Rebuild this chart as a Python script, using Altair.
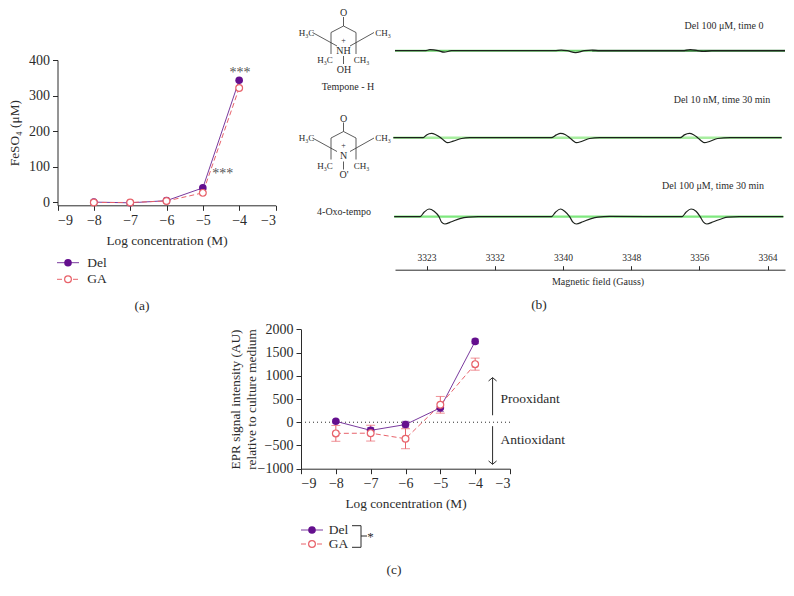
import altair as alt
import pandas as pd

conc = [-8, -7, -6, -5, -4]
a_del = [0, -2, 4, 40, 343]
a_ga = [-1, -1, 3, 26, 321]
c_del = [20, -175, -50, 310, 1740]
c_del_err = [30, 60, 70, 80, 50]
c_ga = [-240, -235, -355, 375, 1250]
c_ga_err = [170, 170, 215, 180, 130]

# spectra: magnetic field (Gauss) and signal
top_x = [3319.2,3322.8,3323.4,3324.4,3325.1,3326.0,3338.4,3339.2,3339.9,3340.9,3342.0,3342.9,3343.8,3353.8,3354.7,3355.6,3356.3,3357.3,3366.1]
top_y = [0,0,1.0,0,-1.5,0,0,0.6,0,-2,0,0.6,0,0,1.2,0,-0.8,0,0]
mid_x = [3319.0,3322.6,3323.0,3323.6,3324.1,3324.7,3325.2,3325.5,3326.2,3327.2,3328.2,3338.0,3338.6,3339.1,3339.7,3340.2,3340.7,3341.0,3341.7,3342.6,3343.8,3353.5,3354.0,3354.6,3355.1,3355.6,3356.1,3356.4,3357.1,3358.0,3359.5,3365.7]
mid_y = [0,0,2.8,4.3,3,0,-3.5,-5,-3.5,-0.8,0,0,2.8,4.3,3,0,-3.5,-5,-3.5,-0.8,0,0,2.8,4.3,3,0,-3.5,-5,-3.5,-0.8,0,0]
bot_x = [3319.1,3322.2,3322.7,3323.3,3323.9,3324.5,3324.8,3325.2,3326.0,3327.0,3328.0,3329.2,3338.0,3338.5,3339.1,3339.6,3340.2,3340.6,3341.0,3341.8,3342.8,3343.6,3345.0,3353.7,3354.2,3354.8,3355.4,3355.9,3356.3,3356.7,3357.5,3358.5,3359.2,3360.6,3365.9]
bot_y = [0,0,4.5,7.7,5.5,0,-5.5,-7.3,-5,-2,-0.5,0,0,4.5,7.7,5.5,0,-5.5,-7.3,-5,-2,-0.5,0.3,0,4.5,7.7,5.5,0,-5.5,-7.3,-5,-2,-0.5,0,0]
base = [0, -87, -166]
field_ticks = [3323, 3331.2, 3339.4, 3347.6, 3355.8, 3364]

PURPLE = "#640f8e"
PLINE = "#7a3a9e"
RED = "#e8636b"
INK = "#2b2b2b"
FONT = "Liberation Serif"

def cx(v):
    return v - 8

def line_layers(x, y, xs, ys, err=None):
    d = pd.DataFrame({"x": conc, "del": a_del if err is None else c_del, "ga": a_ga if err is None else c_ga})
    if err is not None:
        d["del0"] = [v - e for v, e in zip(c_del, c_del_err)]
        d["del1"] = [v + e for v, e in zip(c_del, c_del_err)]
        d["ga0"] = [v - e for v, e in zip(c_ga, c_ga_err)]
        d["ga1"] = [v + e for v, e in zip(c_ga, c_ga_err)]
    base_c = alt.Chart(d)
    X = alt.X("x:Q", scale=xs, axis=x)
    Y = alt.Y("del:Q", scale=ys, axis=y)
    Yg = alt.Y("ga:Q", scale=ys, axis=None)
    XN = alt.X("x:Q", scale=xs, axis=None)
    ls = [base_c.mark_line(color=PLINE, strokeWidth=1).encode(x=X, y=Y)]
    if err is not None:
        ls.append(base_c.mark_errorbar(color=PLINE, ticks=alt.TickConfig(size=7)).encode(x=XN, y=alt.Y("del0:Q", scale=ys, axis=None, title=None), y2="del1:Q"))
        ls.append(base_c.mark_errorbar(color=RED, ticks=alt.TickConfig(size=9)).encode(x=XN, y=alt.Y("ga0:Q", scale=ys, axis=None, title=None), y2="ga1:Q"))
    ls.append(base_c.mark_line(color=RED, strokeWidth=1, strokeDash=[5, 3]).encode(x=XN, y=Yg))
    ls.append(base_c.mark_point(filled=True, color=PURPLE, size=58, opacity=1).encode(x=XN, y=alt.Y("del:Q", scale=ys, axis=None)))
    ls.append(base_c.mark_point(fill="white", color=RED, stroke=RED, strokeWidth=1.2, size=46, opacity=1, filled=False).encode(x=XN, y=Yg))
    return ls

CANVAS_H = 580
common_axis = dict(labelFont=FONT, titleFont=FONT, labelFontSize=14, titleFontSize=13.3, labelColor=INK, titleColor=INK,
                   domainColor=INK, tickColor=INK, grid=False, tickSize=5, labelPadding=3, titleFontWeight="normal")

# panel (a)
ay_px = 205.3
ax_a = alt.Axis(orient="bottom", values=[-9,-8,-7,-6,-5,-4,-3], offset=-(CANVAS_H - cx(ay_px)), title="Log concentration (M)", format="d", titlePadding=6, **common_axis)
ay_a = alt.Axis(orient="left", values=[0,100,200,300,400], offset=-cx(57.5), title="FeSO₄ (μM)", format="d", titlePadding=7, **common_axis)
xs_a = alt.Scale(domain=[-9, -3], range=[cx(57.5), cx(275.5)], nice=False, zero=False)
ys_a = alt.Scale(domain=[-9, 400], range=[cx(ay_px), cx(60)], nice=False, zero=False)
stars_a = pd.DataFrame({"x": [-3.98, -4.45], "y": [362, 78], "t": ["***", "***"]})
panel_a = line_layers(ax_a, ay_a, xs_a, ys_a) + [
    alt.Chart(stars_a).mark_text(font=FONT, fontSize=14, color="#555").encode(
        x=alt.X("x:Q", scale=xs_a, axis=None), y=alt.Y("y:Q", scale=ys_a, axis=None), text="t:N")]

# panel (c)
cy_px = 468.7
ax_c = alt.Axis(orient="bottom", values=[-9,-8,-7,-6,-5,-4,-3], offset=-(CANVAS_H - cx(cy_px)), title="Log concentration (M)", format="d", titlePadding=6, **common_axis)
ay_c = alt.Axis(orient="left", values=[-1000,-500,0,500,1000,1500,2000], offset=-cx(301), title=["EPR signal intensity (AU)", "relative to culture medium"], format="d", titlePadding=-1, **common_axis)
xs_c = alt.Scale(domain=[-9, -3], range=[cx(301), cx(510)], nice=False, zero=False)
ys_c = alt.Scale(domain=[-1000, 2000], range=[cx(cy_px), cx(329.3)], nice=False, zero=False)
zero = pd.DataFrame({"x": [-9, -3], "y": [0, 0]})
arrows = pd.DataFrame({
    "g": [0,0, 1,1,1, 2,2, 3,3,3],
    "x": [-3.5,-3.5, -3.615,-3.5,-3.385, -3.5,-3.5, -3.615,-3.5,-3.385],
    "y": [150,960, 888,960,888, -85,-905, -833,-905,-833]})
labels_c = pd.DataFrame({"x": [-3.27, -3.27], "y": [490, -390], "t": ["Prooxidant", "Antioxidant"]})
XC = alt.X("x:Q", scale=xs_c, axis=None)
YC = alt.Y("y:Q", scale=ys_c, axis=None)
panel_c = [alt.Chart(zero).mark_line(color=INK, strokeDash=[1, 3], strokeWidth=1).encode(x=XC, y=YC)] + \
    line_layers(ax_c, ay_c, xs_c, ys_c, err=True) + [
    alt.Chart(arrows).mark_line(color=INK, strokeWidth=1).encode(x=XC, y=YC, detail="g:N", order=alt.Order("g:N")),
    alt.Chart(labels_c).mark_text(font=FONT, fontSize=13.5, color=INK, align="left").encode(x=XC, y=YC, text="t:N")]

# panel (b)
xs_b = alt.Scale(domain=[3319.2, 3366.1], range=[cx(395), cx(785)], nice=False, zero=False)
ys_b = alt.Scale(domain=[-220, 50], range=[cx(50.7 + 220), cx(0.7)], nice=False, zero=False)
ax_b = alt.Axis(orient="top", values=field_ticks, offset=-cx(269.7), title=None, labelExpr="format(ceil(datum.value),'d')",
                labelFont=FONT, labelFontSize=9.5, labelColor=INK, domainColor=INK, tickColor=INK, grid=False, tickSize=4, labelPadding=3)
XB = alt.X("x:Q", scale=xs_b, axis=None)
YB = alt.Y("y:Q", scale=ys_b, axis=None)
def flat(x0, x1, b, color, w):
    return alt.Chart(pd.DataFrame({"x": [x0, x1], "y": [b, b]})).mark_line(color=color, strokeWidth=w).encode(x=XB, y=YB)
def trace(xv, yv, b, color="#1c221c"):
    d = pd.DataFrame({"x": xv, "y": [v + b for v in yv]})
    return alt.Chart(d).mark_line(color=color, strokeWidth=1.2, interpolate="monotone").encode(x=XB, y=YB)
panel_b = [
    alt.Chart(pd.DataFrame({"x": field_ticks})).mark_tick(opacity=0).encode(x=alt.X("x:Q", scale=xs_b, axis=ax_b)),
    flat(3319.2, 3342.9, base[0], "#6fd46f", 2),
    flat(3342.9, 3366.1, base[0], "#2f7d34", 2),
    flat(3319.0, 3365.7, base[1], "#a8eea0", 2.5),
    flat(3319.1, 3365.9, base[2], "#7fe87f", 2.2),
    trace(top_x, top_y, base[0]),
    trace(mid_x, mid_y, base[1]),
    trace(bot_x, bot_y, base[2]),
]

# canvas annotations: captions, legends, structures (page pixel space)
xs_p = alt.Scale(domain=[0, 794], range=[-8, 786], nice=False, zero=False)
ys_p = alt.Scale(domain=[0, 596], range=[-8, 588], nice=False, zero=False)
XP = alt.X("x:Q", scale=xs_p, axis=None)
YP = alt.Y("y:Q", scale=ys_p, axis=None)

texts = [
    (142, 306, "(a)", 13.5), (539, 305, "(b)", 13.5), (394, 570, "(c)", 13.5),
    (97, 262.7, "Del", 13.5), (97, 279.3, "GA", 13.5),
    (338.5, 530, "Del", 13.5), (338.5, 544, "GA", 13.5),
    (370.5, 537, "*", 13),
    (598, 282, "Magnetic field (Gauss)", 10),
    (724, 26, "Del 100 μM, time 0", 10),
    (722, 100, "Del 10 nM, time 30 min", 10),
    (713, 186, "Del 100 μM, time 30 min", 10),
    (348, 86.5, "Tempone - H", 10),
    (344, 212, "4-Oxo-tempo", 10),
]
OFFSET = 105.5
atoms_common = [(343.5, 13, "O", 10), (306.5, 32.5, "H₃C", 9), (383, 32.5, "CH₃", 9), (343.5, 40.5, "+", 8),
                (325, 60, "H₃C", 9), (361.5, 60, "CH₃", 9)]
for a in atoms_common:
    texts.append(a)
    texts.append((a[0], a[1] + OFFSET, a[2], a[3]))
texts += [(343.5, 50.5, "NH", 10), (344, 70, "OH", 10), (343.5, 156, "N", 10), (344, 175, "O'", 10)]
tdf = pd.DataFrame(texts, columns=["x", "y", "t", "s"])

bonds = [
    [(343.5, 17), (343.5, 26)],
    [(343.5, 26), (331, 32.5)], [(343.5, 26), (356, 32.5)],
    [(331, 32.5), (331, 54)], [(356, 32.5), (356, 54)],
    [(312.5, 32.5), (337, 46)], [(374, 32.5), (350, 46)],
    [(343.5, 56), (343.5, 64)],
]
rows = []
g = 0
for shift in (0, OFFSET):
    for (p, q) in bonds:
        rows += [(g, p[0], p[1] + shift), (g, q[0], q[1] + shift)]
        g += 1
leg_lines = [
    [(57, 262.7), (79, 262.7), PLINE], [(57, 279.3), (79, 279.3), RED],
    [(301, 530), (323, 530), PLINE], [(301, 544), (323, 544), RED],
]
bracket = [(352, 525.7), (361, 525.7), (361, 547.3), (352, 547.3)]
bdf = pd.DataFrame(rows, columns=["g", "x", "y"])
brdf = pd.DataFrame(bracket, columns=["x", "y"]).assign(o=range(4))
stub = pd.DataFrame({"x": [361, 367], "y": [536, 536]})

leg_layers = []
for p, q, col in leg_lines:
    d = pd.DataFrame({"x": [p[0], q[0]], "y": [p[1], q[1]]})
    m = alt.Chart(d).mark_line(color=col, strokeWidth=1, strokeDash=[5, 3] if col == RED else [1, 0])
    leg_layers.append(m.encode(x=XP, y=YP))
    pt = pd.DataFrame({"x": [(p[0] + q[0]) / 2], "y": [p[1]]})
    if col == RED:
        leg_layers.append(alt.Chart(pt).mark_point(fill="white", stroke=RED, strokeWidth=1.2, size=46, opacity=1).encode(x=XP, y=YP))
    else:
        leg_layers.append(alt.Chart(pt).mark_point(filled=True, color=PURPLE, size=58, opacity=1).encode(x=XP, y=YP))

panel_p = [
    alt.Chart(bdf).mark_line(color="#333", strokeWidth=0.8).encode(x=XP, y=YP, detail="g:N", order=alt.Order("g:N")),
    alt.Chart(brdf).mark_line(color=INK, strokeWidth=1).encode(x=XP, y=YP, order="o:Q"),
    alt.Chart(stub).mark_line(color=INK, strokeWidth=1).encode(x=XP, y=YP),
    *leg_layers,
    alt.Chart(tdf).mark_text(font=FONT, color=INK, baseline="middle", align="center").encode(
        x=XP, y=YP, text="t:N", size=alt.Size("s:Q", scale=None)),
]

chart = alt.layer(*panel_a, *panel_b, *panel_c, *panel_p).resolve_scale(
    x="independent", y="independent").resolve_axis(x="independent", y="independent").properties(
    width=778, height=CANVAS_H, padding=0, autosize=alt.AutoSizeParams(type="none"), background="white"
).configure_view(stroke=None)

chart.save("out.html", embed_options={"renderer": "svg", "actions": False})
